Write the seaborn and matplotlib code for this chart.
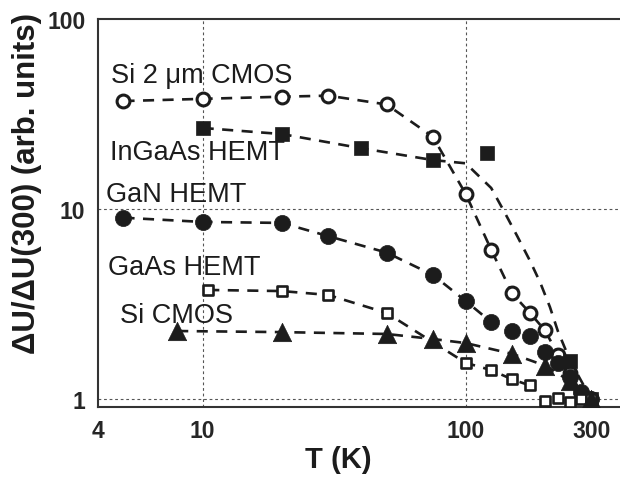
import matplotlib
matplotlib.use("Agg")
import matplotlib.pyplot as plt
import seaborn as sns
from matplotlib.ticker import FixedLocator, FixedFormatter, LogLocator, NullFormatter

# --- DATA ---
t_si2um = [5, 10, 20, 30, 50, 75, 100, 125, 150, 175, 200, 225, 250, 275, 300]
u_si2um = [37, 38, 39, 39.5, 35.5, 24, 12, 6.1, 3.6, 2.85, 2.3, 1.7, 1.37, 1.07, 1.0]

t_ingaas = [10, 20, 40, 75, 120, 250, 300]
u_ingaas = [26.7, 24.8, 20.9, 18.1, 19.7, 1.58, 1.0]
# dashed guide curve for InGaAs (does not pass through the 120 K point)
t_ingaas_fit = [10, 20, 40, 75, 100, 125, 140, 157, 176, 192, 209, 224, 250, 300]
u_ingaas_fit = [26.7, 24.8, 20.9, 18.1, 17.4, 12.9, 9.7, 7.2, 5.3, 4.1, 3.05, 2.28, 1.58, 1.0]

t_gan = [5, 10, 20, 30, 50, 75, 100, 125, 150, 175, 200, 225, 250, 275, 300]
u_gan = [9.0, 8.55, 8.45, 7.2, 5.9, 4.5, 3.28, 2.54, 2.27, 2.15, 1.77, 1.55, 1.3, 1.09, 1.0]

t_gaas = [10.5, 20, 30, 50, 100, 125, 150, 175, 200, 225, 250, 275, 300]
u_gaas = [3.75, 3.7, 3.53, 2.84, 1.55, 1.42, 1.27, 1.18, 0.98, 1.01, 0.97, 1.0, 1.0]
t_gaas_fit = [10.5, 20, 30, 50, 100, 125, 150, 175]
u_gaas_fit = [3.75, 3.7, 3.53, 2.84, 1.55, 1.42, 1.27, 1.18]

t_sicmos = [8, 20, 50, 75, 100, 150, 200, 250, 300]
u_sicmos = [2.28, 2.25, 2.2, 2.07, 1.97, 1.73, 1.5, 1.24, 1.0]

labels = ["Si 2 \u03bcm CMOS", "InGaAs HEMT", "GaN HEMT", "GaAs HEMT", "Si CMOS"]
label_pos = [(4.5, 46.6), (4.43, 18.3), (4.3, 11.0), (4.36, 4.55), (4.85, 2.54)]

x_ticks = [4, 10, 100, 300]
y_ticks = [1, 10, 100]

# --- STYLE ---
sns.set_style("white")
plt.rcParams["font.family"] = ["Liberation Sans", "DejaVu Sans"]
INK = "#1c1c1c"
DASH = (0, (4.2, 3.2))
LW = 1.9

fig = plt.figure(figsize=(6.2, 4.81), dpi=100)
ax = fig.add_axes([98 / 620, 1 - 408 / 481, 522 / 620, 388 / 481])
ax.set_xscale("log")
ax.set_yscale("log")

# grid lines (dotted) at the major decades
for xv in [10, 100]:
    ax.axvline(xv, color="#555555", lw=0.8, ls=(0, (2.5, 2.5)), zorder=0)
for yv in [1, 10]:
    ax.axhline(yv, color="#555555", lw=0.8, ls=(0, (2.5, 2.5)), zorder=0)

# dashed guide lines
line_kw = dict(color=INK, lw=LW, linestyle=DASH, estimator=None, sort=False, zorder=2)
sns.lineplot(x=t_si2um, y=u_si2um, ax=ax, **line_kw)
sns.lineplot(x=t_ingaas_fit, y=u_ingaas_fit, ax=ax, **line_kw)
sns.lineplot(x=t_gan, y=u_gan, ax=ax, **line_kw)
sns.lineplot(x=t_gaas_fit, y=u_gaas_fit, ax=ax, **line_kw)
sns.lineplot(x=t_sicmos, y=u_sicmos, ax=ax, **line_kw)

# markers
mk = dict(ax=ax, zorder=3, legend=False)
sns.scatterplot(x=t_si2um, y=u_si2um, marker="o", s=85, facecolor="white",
                edgecolor=INK, linewidth=2.2, **mk)
sns.scatterplot(x=t_ingaas, y=u_ingaas, marker="s", s=115, color=INK,
                edgecolor=INK, linewidth=0.5, **mk)
sns.scatterplot(x=t_gan, y=u_gan, marker="o", s=135, color=INK,
                edgecolor=INK, linewidth=0.5, **mk)
sns.scatterplot(x=t_gaas, y=u_gaas, marker="s", s=55, facecolor="white",
                edgecolor=INK, linewidth=1.9, **mk)
sns.scatterplot(x=t_sicmos, y=u_sicmos, marker="^", s=175, color=INK,
                edgecolor=INK, linewidth=0.5, **mk)

for txt, (xp, yp) in zip(labels, label_pos):
    ax.text(xp, yp, txt, fontsize=19.5, color=INK, ha="left", va="baseline", zorder=4)

ax.set_xlim(4, 386)
ax.set_ylim(0.908, 100)

ax.xaxis.set_major_locator(FixedLocator(x_ticks))
ax.xaxis.set_major_formatter(FixedFormatter([str(v) for v in x_ticks]))
ax.xaxis.set_minor_locator(LogLocator(base=10, subs=range(2, 10)))
ax.xaxis.set_minor_formatter(NullFormatter())
ax.yaxis.set_major_locator(FixedLocator(y_ticks))
ax.yaxis.set_major_formatter(FixedFormatter([str(v) for v in y_ticks]))
ax.yaxis.set_minor_locator(LogLocator(base=10, subs=range(2, 10)))
ax.yaxis.set_minor_formatter(NullFormatter())

ax.tick_params(which="both", direction="in", color="#333333", width=1.3,
               top=False, right=False)
ax.tick_params(which="major", length=7, labelsize=16.5, pad=9)
ax.tick_params(which="minor", length=4.5)
for lab in ax.get_xticklabels() + ax.get_yticklabels():
    lab.set_fontweight("bold")

for side in ["left", "bottom", "top"]:
    ax.spines[side].set_color("#333333")
    ax.spines[side].set_linewidth(1.5)
ax.spines["right"].set_visible(False)

fig.text(338 / 620, 1 - 460 / 481, "T (K)", ha="center", va="center",
         fontsize=21, fontweight="bold", color=INK)
fig.text(27 / 620, 1 - 183 / 481, "\u0394U/\u0394U(300) (arb. units)", ha="center",
         va="center", rotation=90, fontsize=22.5, fontweight="bold", color=INK)

fig.savefig("out.png", dpi=100)
